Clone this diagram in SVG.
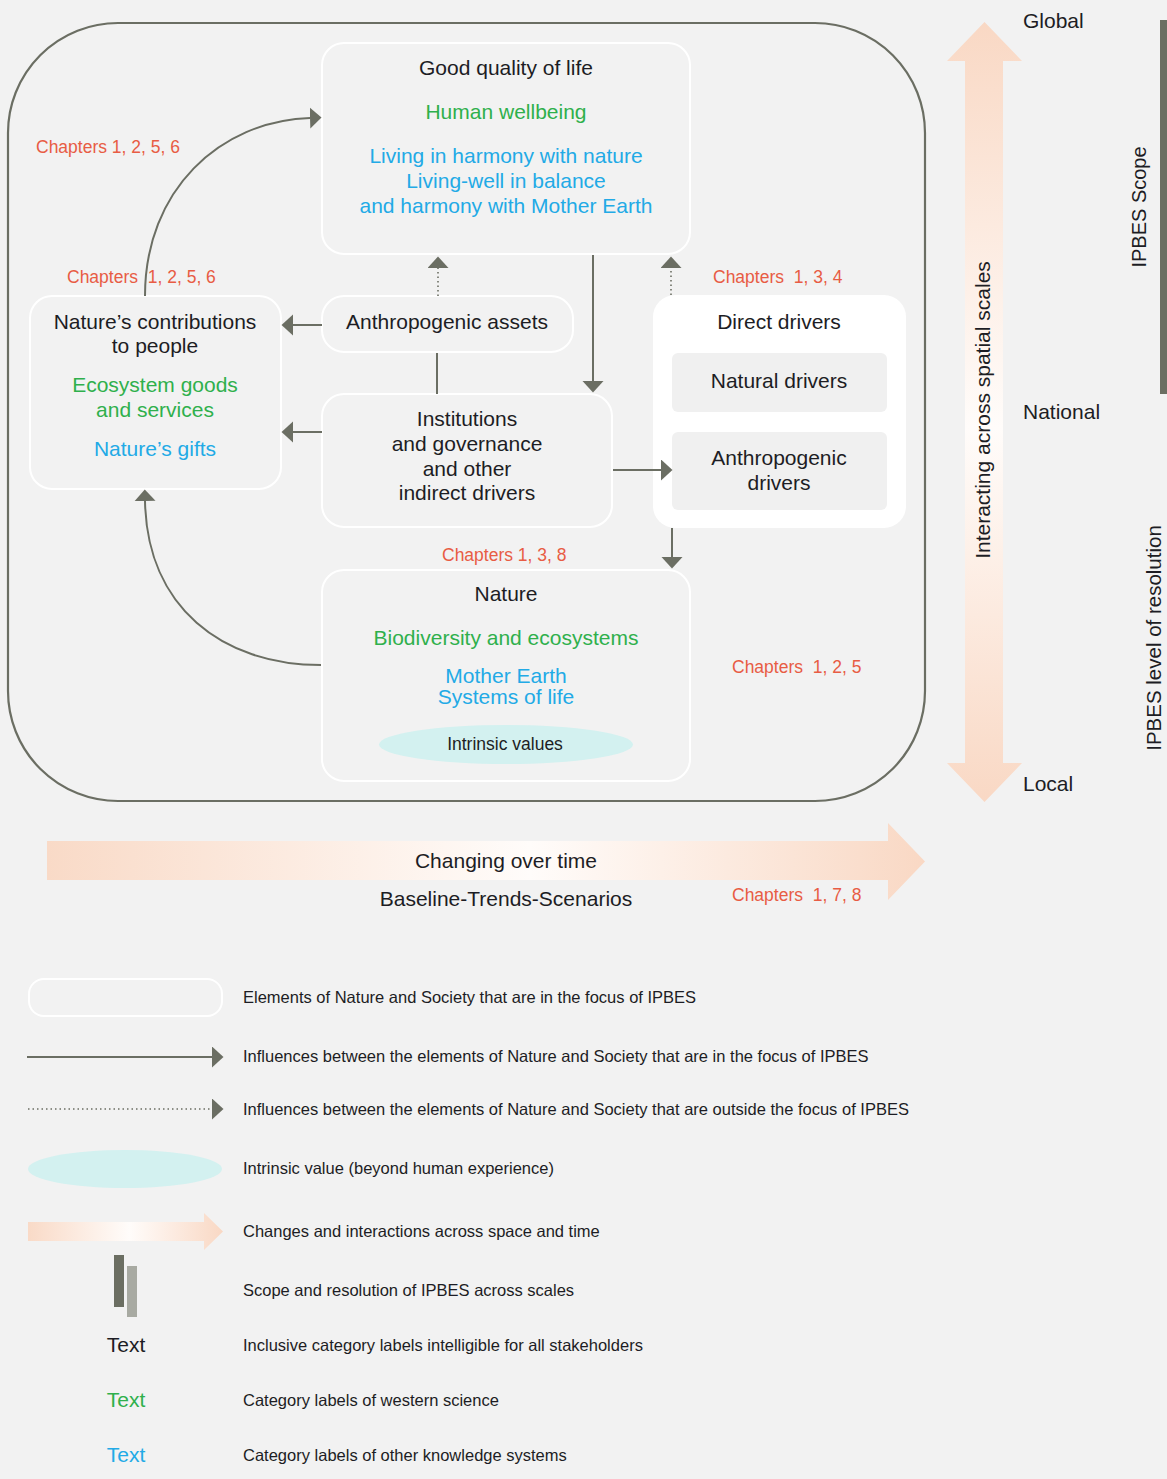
<svg xmlns="http://www.w3.org/2000/svg" width="1167" height="1479" viewBox="0 0 1167 1479">
<defs>
<style>
text{font-family:"Liberation Sans",Arial,Helvetica,sans-serif;fill:#1d1d24}
.m{font-size:21px;text-anchor:middle}
.g{fill:#2fb04c}
.b{fill:#22aae6}
.ch{font-size:17.5px;fill:#e85c44;white-space:pre}
.lg{font-size:16.5px}
.node{fill:#f2f2f2;stroke:#ffffff;stroke-width:2}
.con{fill:none;stroke:#6b6e63;stroke-width:2}
.dot{fill:none;stroke:#6b6e63;stroke-width:1.6;stroke-dasharray:1.5 3}
</style>
<marker id="ah" markerUnits="userSpaceOnUse" markerWidth="12" markerHeight="22" refX="0" refY="10.5" orient="auto">
<path d="M0,0 L11.5,10.5 L0,21 z" fill="#6b6e63"/>
</marker>
<linearGradient id="gh" gradientUnits="userSpaceOnUse" x1="47" y1="0" x2="925" y2="0">
<stop offset="0" stop-color="#f9dac7"/>
<stop offset="0.55" stop-color="#fffcfa"/>
<stop offset="1" stop-color="#f9d8c4"/>
</linearGradient>
<linearGradient id="gv" gradientUnits="userSpaceOnUse" x1="0" y1="22" x2="0" y2="802">
<stop offset="0" stop-color="#f9d8c4"/>
<stop offset="0.52" stop-color="#fffcfa"/>
<stop offset="1" stop-color="#f9d8c4"/>
</linearGradient>
<linearGradient id="gl" gradientUnits="userSpaceOnUse" x1="28" y1="0" x2="223" y2="0">
<stop offset="0" stop-color="#f9dac7"/>
<stop offset="0.52" stop-color="#fffcfa"/>
<stop offset="1" stop-color="#f9d8c4"/>
</linearGradient>
</defs>
<rect x="0" y="0" width="1167" height="1479" fill="#f2f2f2"/>

<!-- outer frame -->
<rect x="8" y="23" width="917" height="778" rx="110" ry="110" fill="none" stroke="#6b6e63" stroke-width="2.2"/>

<!-- spatial scale arrow -->
<g id="scale-arrow">
<path d="M965,61 L947,61 L984.5,22 L1022,61 L1003,61 L1003,763 L1022,763 L984.5,802 L947,763 L965,763 z" fill="url(#gv)"/>
<text x="990" y="410" class="m" transform="rotate(-90 990 410)">Interacting across spatial scales</text>
<text x="1023" y="28" style="font-size:21px">Global</text>
<text x="1023" y="419" style="font-size:21px">National</text>
<text x="1023" y="791" style="font-size:21px">Local</text>
</g>
<g id="scope">
<rect x="1160" y="20" width="7" height="374" fill="#6b6e62"/>
<text x="1146" y="207" style="font-size:20px;text-anchor:middle" transform="rotate(-90 1146 207)">IPBES Scope</text>
<text x="1161" y="638" style="font-size:20.5px;text-anchor:middle" transform="rotate(-90 1161 638)">IPBES level of resolution</text>
</g>

<!-- time arrow -->
<g id="time-arrow">
<path d="M47,841 L888,841 L888,823 L925,861.5 L888,900 L888,880 L47,880 z" fill="url(#gh)"/>
<text x="506" y="868" class="m">Changing over time</text>
<text x="506" y="906" class="m">Baseline-Trends-Scenarios</text>
<text x="732" y="901" class="ch" xml:space="preserve">Chapters  1, 7, 8</text>
</g>

<!-- nodes -->
<g id="good-quality-of-life">
<rect class="node" x="322" y="43" width="368" height="211" rx="22"/>
<text x="506" y="75" class="m">Good quality of life</text>
<text x="506" y="119" class="m g">Human wellbeing</text>
<text x="506" y="163" class="m b">Living in harmony with nature</text>
<text x="506" y="188" class="m b">Living-well in balance</text>
<text x="506" y="213" class="m b">and harmony with Mother Earth</text>
</g>

<g id="natures-contributions">
<rect class="node" x="30" y="296" width="251" height="193" rx="22"/>
<text x="155" y="329" class="m">Nature’s contributions</text>
<text x="155" y="353" class="m">to people</text>
<text x="155" y="392" class="m g">Ecosystem goods</text>
<text x="155" y="417" class="m g">and services</text>
<text x="155" y="456" class="m b">Nature’s gifts</text>
</g>

<g id="anthropogenic-assets">
<rect class="node" x="322" y="296" width="251" height="56" rx="22"/>
<text x="447" y="329" class="m">Anthropogenic assets</text>
</g>

<g id="institutions">
<rect class="node" x="322" y="394" width="290" height="133" rx="22"/>
<text x="467" y="426" class="m">Institutions</text>
<text x="467" y="451" class="m">and governance</text>
<text x="467" y="476" class="m">and other</text>
<text x="467" y="500" class="m">indirect drivers</text>
</g>

<g id="direct-drivers">
<rect x="653" y="295" width="253" height="233" rx="22" fill="#ffffff"/>
<text x="779" y="329" class="m">Direct drivers</text>
<rect x="672" y="353" width="215" height="59" rx="6" fill="#f0f0f0"/>
<text x="779" y="388" class="m">Natural drivers</text>
<rect x="672" y="432" width="215" height="78" rx="6" fill="#f0f0f0"/>
<text x="779" y="465" class="m">Anthropogenic</text>
<text x="779" y="490" class="m">drivers</text>
</g>

<g id="nature">
<rect class="node" x="322" y="570" width="368" height="211" rx="22"/>
<text x="506" y="601" class="m">Nature</text>
<text x="506" y="645" class="m g">Biodiversity and ecosystems</text>
<text x="506" y="683" class="m b">Mother Earth</text>
<text x="506" y="704" class="m b">Systems of life</text>
<ellipse cx="506" cy="744.5" rx="127" ry="19.5" fill="#d3f1f0"/>
<text x="505" y="750" style="font-size:17.5px;text-anchor:middle">Intrinsic values</text>
</g>

<!-- connectors -->
<g id="connectors">
<path class="con" d="M145,296 C145,190 220,121 310,118" marker-end="url(#ah)"/>
<path class="con" d="M321,665 C222,665 147,607 145,501" marker-end="url(#ah)"/>
<path class="con" d="M322,325 L293,325" marker-end="url(#ah)"/>
<path class="con" d="M322,432 L293,432" marker-end="url(#ah)"/>
<path class="con" d="M593,255 L593,381" marker-end="url(#ah)"/>
<path class="con" d="M613,470 L661,470" marker-end="url(#ah)"/>
<path class="con" d="M672,528 L672,557" marker-end="url(#ah)"/>
<path class="con" d="M437,353 L437,394"/>
<path class="dot" d="M438,296 L438,268" marker-end="url(#ah)"/>
<path class="dot" d="M671,295 L671,268" marker-end="url(#ah)"/>
</g>

<!-- chapter labels -->
<g id="chapter-labels">
<text x="36" y="153" class="ch">Chapters 1, 2, 5, 6</text>
<text x="67" y="283" class="ch" xml:space="preserve">Chapters  1, 2, 5, 6</text>
<text x="713" y="283" class="ch" xml:space="preserve">Chapters  1, 3, 4</text>
<text x="442" y="561" class="ch">Chapters 1, 3, 8</text>
<text x="732" y="673" class="ch" xml:space="preserve">Chapters  1, 2, 5</text>
</g>

<!-- legend -->
<g id="legend">
<rect x="29" y="979" width="193" height="37" rx="15" fill="none" stroke="#ffffff" stroke-width="2"/>
<text x="243" y="1003" class="lg">Elements of Nature and Society that are in the focus of IPBES</text>
<path class="con" d="M27,1057 L212,1057" marker-end="url(#ah)"/>
<text x="243" y="1062" class="lg">Influences between the elements of Nature and Society that are in the focus of IPBES</text>
<path class="dot" d="M28,1109 L212,1109" marker-end="url(#ah)"/>
<text x="243" y="1115" class="lg">Influences between the elements of Nature and Society that are outside the focus of IPBES</text>
<ellipse cx="125" cy="1169" rx="97" ry="19" fill="#d3f1f0"/>
<text x="243" y="1174" class="lg">Intrinsic value (beyond human experience)</text>
<path d="M28,1222 L204,1222 L204,1213 L223,1231.5 L204,1250 L204,1241 L28,1241 z" fill="url(#gl)"/>
<text x="243" y="1237" class="lg">Changes and interactions across space and time</text>
<rect x="114" y="1255" width="10" height="52" fill="#6b6e62"/>
<rect x="127" y="1266" width="10" height="51" fill="#a8aaa2"/>
<text x="243" y="1296" class="lg">Scope and resolution of IPBES across scales</text>
<text x="126" y="1352" class="m">Text</text>
<text x="243" y="1351" class="lg">Inclusive category labels intelligible for all stakeholders</text>
<text x="126" y="1407" class="m g">Text</text>
<text x="243" y="1406" class="lg">Category labels of western science</text>
<text x="126" y="1462" class="m b">Text</text>
<text x="243" y="1461" class="lg">Category labels of other knowledge systems</text>
</g>
</svg>
